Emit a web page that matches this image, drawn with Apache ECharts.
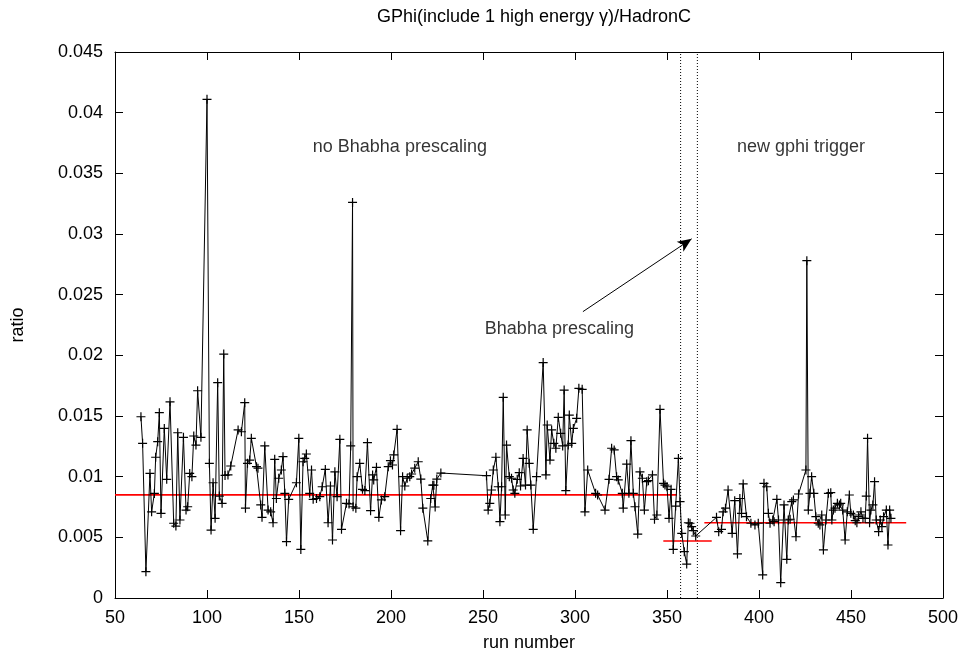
<!DOCTYPE html>
<html>
<head>
<meta charset="utf-8">
<script src="https://cdn.jsdelivr.net/npm/echarts@6/dist/echarts.min.js"></script>
<style>html,body{margin:0;padding:0;background:#fff;}#chart{width:961px;height:654px;}</style>
</head>
<body>
<div id="chart"></div>
<script>
// run numbers and measured ratios
const runNumbers = [64.1,65.0,66.8,69.0,69.9,71.4,72.1,73.2,74.1,75.0,76.8,78.1,79.9,81.9,83.1,84.1,85.3,87.2,88.6,89.5,90.6,91.8,92.8,94.0,94.9,96.7,100.0,101.3,102.2,103.3,104.4,105.8,106.7,108.2,109.1,109.8,111.4,112.9,116.9,118.7,120.5,120.9,122.0,123.2,124.1,126.9,127.7,129.2,129.9,131.4,133.2,134.6,135.9,136.8,137.7,139.0,140.4,141.3,142.3,143.2,144.4,148.6,149.9,151.0,152.2,153.1,154.0,155.8,156.8,157.7,159.5,161.3,162.6,164.3,165.8,167.1,168.2,169.5,170.7,172.2,173.1,175.8,177.2,178.1,179.1,179.4,180.9,181.6,183.0,184.5,185.8,187.2,188.9,190.0,190.6,192.1,193.4,194.8,196.6,198.5,199.7,200.8,201.5,203.3,205.2,206.3,207.5,208.8,210.2,211.2,212.9,214.8,216.2,217.3,220.0,221.6,222.7,223.3,224.0,224.9,227.1,251.9,252.8,253.7,254.6,255.6,257.0,258.3,259.2,260.1,261.0,262.1,262.8,264.3,265.5,266.4,267.3,268.6,269.7,270.4,271.8,273.1,274.0,275.1,276.0,277.3,279.1,282.7,284.2,284.9,286.4,287.3,288.5,289.6,290.9,292.2,293.3,294.1,295.0,296.3,296.9,298.2,299.1,300.9,302.1,303.9,305.4,306.9,311.2,312.3,316.3,318.5,319.9,321.3,322.6,323.5,325.7,326.2,328.1,329.3,330.4,331.7,332.6,334.1,335.3,336.6,337.7,339.0,339.9,342.1,343.2,344.5,346.2,348.1,348.9,350.0,351.1,352.2,353.4,354.7,356.2,357.1,358.0,359.4,360.7,361.6,362.5,363.4,364.3,365.6,376.9,378.1,379.6,380.5,381.8,383.2,385.4,386.8,388.3,389.6,390.5,391.4,393.2,395.6,397.8,399.6,402.0,402.7,404.2,405.1,406.0,407.5,408.2,409.7,410.6,411.8,413.6,415.1,415.9,416.9,417.8,418.7,420.1,421.5,425.5,426.0,426.8,427.7,428.6,429.8,430.9,432.2,433.1,434.1,435.0,436.4,437.7,439.0,439.6,440.4,441.3,442.6,443.7,444.4,445.5,446.8,448.0,449.1,449.9,451.3,452.3,453.2,454.1,455.4,456.5,457.7,458.3,459.0,460.1,460.8,461.9,462.8,463.7,465.0,465.9,466.8,467.7,469.2,470.1,471.0,471.7];
const ratios = [0.01494,0.01275,0.00217,0.01027,0.0071,0.00862,0.0116,0.01288,0.01527,0.00697,0.01398,0.00978,0.01617,0.00616,0.00593,0.01362,0.00643,0.01324,0.00725,0.00752,0.01027,0.0100,0.01335,0.0126,0.01708,0.01324,0.0411,0.0111,0.0056,0.0095,0.00657,0.01775,0.0084,0.0078,0.0201,0.0101,0.01014,0.01088,0.01385,0.0137,0.0161,0.0074,0.0111,0.01137,0.01316,0.01082,0.0107,0.00767,0.00665,0.01253,0.00725,0.0071,0.0062,0.01143,0.0082,0.00987,0.01055,0.01165,0.00863,0.00464,0.00813,0.0095,0.01316,0.0040,0.01123,0.0115,0.01187,0.00863,0.01055,0.00813,0.0082,0.00835,0.00917,0.0106,0.0062,0.00923,0.00478,0.0104,0.00835,0.01308,0.00566,0.0078,0.00775,0.01253,0.0326,0.00752,0.0074,0.0100,0.0111,0.00896,0.00885,0.0128,0.0072,0.01014,0.00973,0.01077,0.00665,0.00808,0.00835,0.01082,0.01132,0.01096,0.01179,0.0139,0.00555,0.0100,0.00923,0.00987,0.0100,0.01022,0.0107,0.01123,0.0098,0.0074,0.0047,0.0082,0.0093,0.0093,0.0075,0.0098,0.0103,0.01008,0.00725,0.0078,0.0089,0.01055,0.0116,0.00917,0.00629,0.00917,0.01654,0.00684,0.0126,0.0100,0.00987,0.0089,0.00863,0.00978,0.01033,0.00923,0.0115,0.00931,0.01385,0.0111,0.00931,0.00566,0.0100,0.0194,0.01014,0.01426,0.01137,0.01385,0.01275,0.01234,0.01489,0.01357,0.01253,0.01714,0.00885,0.0126,0.01508,0.01275,0.01398,0.01481,0.01728,0.0172,0.0071,0.01055,0.00863,0.00849,0.00725,0.00978,0.01234,0.0122,0.0100,0.00973,0.00863,0.0074,0.01104,0.00863,0.01297,0.00863,0.00752,0.00527,0.0104,0.00987,0.00725,0.00959,0.00967,0.01014,0.00649,0.00684,0.01555,0.00945,0.00931,0.00917,0.00657,0.00896,0.0040,0.00758,0.0115,0.00794,0.00533,0.00382,0.0028,0.0062,0.00616,0.00588,0.00555,0.00511,0.00665,0.00547,0.00566,0.0071,0.0074,0.0089,0.00533,0.00802,0.00363,0.0082,0.00698,0.0094,0.0067,0.00616,0.00602,0.00616,0.0019,0.00945,0.00917,0.00698,0.00616,0.00643,0.00629,0.00813,0.00643,0.00126,0.00767,0.00319,0.00643,0.00649,0.00794,0.00808,0.00505,0.00857,0.01055,0.0278,0.00725,0.00863,0.0100,0.00863,0.0067,0.00616,0.00602,0.00684,0.00396,0.00643,0.00863,0.00868,0.00643,0.00725,0.0074,0.0078,0.00767,0.0078,0.00725,0.00478,0.0071,0.00849,0.00698,0.00684,0.00637,0.0062,0.0067,0.0071,0.00657,0.00657,0.0084,0.01316,0.0062,0.00725,0.00767,0.00959,0.00643,0.00547,0.00643,0.00588,0.0067,0.00725,0.00437,0.00725,0.00657];

// average levels (red lines): start run, end run, level
const fitStarts = [50, 348, 370.3];
const fitEnds = [355.3, 374.3, 480];
const fitLevels = [0.0085, 0.0047, 0.0062];

// vertical dotted markers
const dividerRuns = [357.4, 366.5];

// annotations
const labelTexts = ['no Bhabha prescaling', 'new gphi trigger', 'Bhabha prescaling'];
const labelRuns = [157.5, 388.0, 251.0];
const labelRatios = [0.0372, 0.0372, 0.0222];
const arrowFrom = [304.3, 0.0236];
const arrowTo = [363.4, 0.0296];

const xTicks = {min: 50, max: 500, interval: 50};
const yTicks = {min: 0, max: 0.045, interval: 0.005};

const FONT = 'Liberation Sans';
const FS = 18;
const chart = echarts.init(document.getElementById('chart'), null, {renderer: 'canvas'});

const axisCommon = {
  type: 'value',
  axisLine: {show: true, onZero: false, lineStyle: {color: '#000', width: 1}},
  axisTick: {show: true, inside: true, length: 8, lineStyle: {color: '#000', width: 1}},
  splitLine: {show: false},
  axisLabel: {color: '#000', fontFamily: FONT, fontSize: FS}
};

const series = [];
series.push({
  type: 'line',
  data: runNumbers.map((x, i) => [x, ratios[i]]),
  symbol: 'path://M0,5L10,5M5,0L5,10',
  symbolSize: 9,
  showAllSymbol: true,
  lineStyle: {color: '#000', width: 1},
  itemStyle: {color: 'rgba(0,0,0,0)', borderColor: '#000', borderWidth: 1.2},
  animation: false,
  z: 5,
  markLine: {
    silent: true,
    symbol: ['none', 'arrow'],
    symbolSize: [9, 14],
    label: {show: false},
    lineStyle: {color: '#000', type: 'solid', width: 1},
    data: [[{coord: arrowFrom}, {coord: arrowTo}]]
  }
});
fitLevels.forEach((lv, i) => {
  series.push({
    type: 'line', data: [[fitStarts[i], lv], [fitEnds[i], lv]],
    symbol: 'none', lineStyle: {color: '#ff0000', width: 1.6}, animation: false, z: 4
  });
});
dividerRuns.forEach(x => {
  series.push({
    type: 'line', data: [[x, yTicks.min], [x, yTicks.max]],
    symbol: 'none', lineStyle: {color: '#000', width: 1, type: [1, 2]}, animation: false, z: 3
  });
});
series.push({
  type: 'scatter',
  data: labelTexts.map((t, i) => ({value: [labelRuns[i], labelRatios[i]], name: t})),
  symbolSize: 0,
  animation: false,
  label: {
    show: true, position: [0, 0], align: 'left', verticalAlign: 'middle',
    formatter: p => p.name, color: '#000', fontFamily: FONT, fontSize: FS
  }
});

chart.setOption({
  backgroundColor: '#fff',
  animation: false,
  title: {
    text: 'GPhi(include 1 high energy γ)/HadronC',
    left: 529, top: 3, textAlign: 'center',
    textStyle: {color: '#000', fontFamily: FONT, fontSize: FS, fontWeight: 'normal'}
  },
  grid: {left: 115, right: 18, top: 52, bottom: 56, containLabel: false, outerBoundsMode: 'none'},
  xAxis: [
    Object.assign({}, axisCommon, xTicks, {position: 'bottom', name: 'run number', nameLocation: 'middle', nameGap: 36,
      nameTextStyle: {color: '#000', fontFamily: FONT, fontSize: FS},
      axisLabel: Object.assign({}, axisCommon.axisLabel, {margin: 11})}),
    Object.assign({}, axisCommon, xTicks, {position: 'top', axisLabel: {show: false}})
  ],
  yAxis: [
    Object.assign({}, axisCommon, yTicks, {position: 'left', name: 'ratio', nameLocation: 'middle', nameGap: 88, nameRotate: 90,
      nameTextStyle: {color: '#000', fontFamily: FONT, fontSize: FS},
      axisLabel: Object.assign({}, axisCommon.axisLabel, {margin: 12})}),
    Object.assign({}, axisCommon, yTicks, {position: 'right', axisLabel: {show: false}})
  ],
  series: series
});
</script>
</body>
</html>
